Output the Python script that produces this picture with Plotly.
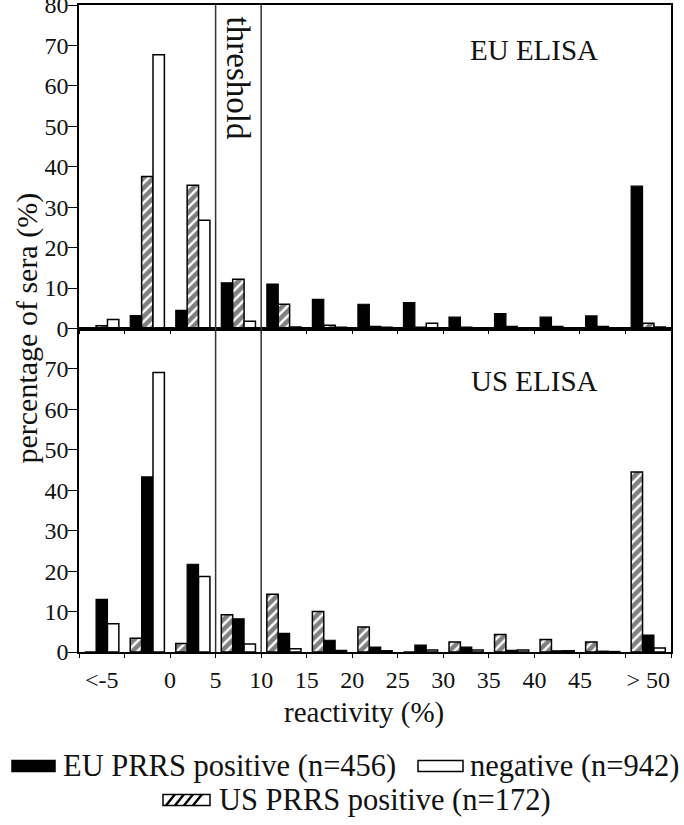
import plotly.graph_objects as go

# ---------------- data ----------------
categories = ["<-5", "-5-0", "0-5", "5-10", "10-15", "15-20", "20-25",
              "25-30", "30-35", "35-40", "40-45", "45-50", ">50"]
tick_labels = ["<-5", "0", "5", "10", "15", "20", "25", "30", "35", "40", "45", "> 50"]
tick_positions = [0.5, 2, 3, 4, 5, 6, 7, 8, 9, 10, 11, 12.5]
threshold_bounds = [3, 4]   # reactivity 5 % and 10 %

# EU ELISA panel (% of sera)
eu_elisa_eu_pos = [0.2, 3.2, 4.5, 11.3, 11.0, 7.2, 6.0, 6.4, 2.8, 3.7, 2.8, 3.1, 35.2]
eu_elisa_us_pos = [0.7, 37.6, 35.4, 12.2, 6.0, 0.8, 0.5, 0.3, 0.3, 0.5, 0.5, 0.5, 1.3]
eu_elisa_neg = [2.2, 67.7, 26.8, 1.8, 0.4, 0.3, 0.3, 1.3, 0.1, 0.2, 0.2, 0.2, 0.4]

# US ELISA panel (% of sera)
us_elisa_us_pos = [0.0, 3.4, 2.1, 9.2, 14.3, 10.0, 6.2, 0.0, 2.5, 4.3, 3.1, 2.5, 44.5]
us_elisa_eu_pos = [13.0, 43.3, 21.7, 8.2, 4.6, 2.9, 1.2, 1.7, 1.2, 0.4, 0.3, 0.2, 4.2]
us_elisa_neg = [7.0, 69.1, 18.7, 2.0, 0.8, 0.4, 0.3, 0.5, 0.5, 0.5, 0.3, 0.1, 1.0]

legend_names = ["EU PRRS positive (n=456)", "negative (n=942)", "US PRRS positive (n=172)"]

# ---------------- figure ----------------
FONT = "Liberation Serif"
W, H = 684, 825
L, R, T, B = 79, 13, 5, 173
centers = [i + 0.5 for i in range(len(categories))]

black_style = dict(marker=dict(color="black", line=dict(color="black", width=1.2)))
white_style = dict(marker=dict(color="white", line=dict(color="black", width=1.5)))
hatch_style = dict(marker=dict(color="white", line=dict(color="black", width=1.5),
                               pattern=dict(shape="/", fgcolor="black", bgcolor="white",
                                            size=7, solidity=0.65)))

fig = go.Figure()
# top: black, hatched, white
fig.add_trace(go.Bar(x=centers, y=eu_elisa_eu_pos, xaxis="x", yaxis="y", offsetgroup="a", **black_style))
fig.add_trace(go.Bar(x=centers, y=eu_elisa_us_pos, xaxis="x", yaxis="y", offsetgroup="b", **hatch_style))
fig.add_trace(go.Bar(x=centers, y=eu_elisa_neg, xaxis="x", yaxis="y", offsetgroup="c", **white_style))
# bottom: hatched, black, white
fig.add_trace(go.Bar(x=centers, y=us_elisa_us_pos, xaxis="x2", yaxis="y2", offsetgroup="a", **hatch_style))
fig.add_trace(go.Bar(x=centers, y=us_elisa_eu_pos, xaxis="x2", yaxis="y2", offsetgroup="b", **black_style))
fig.add_trace(go.Bar(x=centers, y=us_elisa_neg, xaxis="x2", yaxis="y2", offsetgroup="c", **white_style))

axis_common = dict(showline=True, linecolor="black", linewidth=1.5, mirror=True,
                   showgrid=False, zeroline=False, automargin=False,
                   ticklabeloverflow="allow")
xcommon = dict(axis_common, range=[0, len(categories)], tickmode="array",
               tickvals=tick_positions, ticktext=tick_labels, ticks="outside", ticklen=0,
               minor=dict(dtick=1, tick0=0, ticks="outside", ticklen=4, tickcolor="black",
                          tickwidth=1),
               tickfont=dict(family=FONT, size=24, color="#111"))
ycommon = dict(axis_common, range=[0, 80], ticks="outside", ticklen=9, tickwidth=1.2,
               tickcolor="black", tickfont=dict(family=FONT, size=24, color="#111"),
               ticklabelstandoff=-5)

fig.update_layout(
    width=W, height=H,
    margin=dict(l=L, r=R, t=T, b=B, autoexpand=False),
    paper_bgcolor="white", plot_bgcolor="white",
    showlegend=False,
    barmode="group", bargap=0.25, bargroupgap=0,
    xaxis=dict(xcommon, anchor="y", showticklabels=False),
    yaxis=dict(ycommon, domain=[0.5, 1], tickvals=list(range(0, 90, 10))),
    xaxis2=dict(xcommon, anchor="y2", ticklabelstandoff=5),
    yaxis2=dict(ycommon, domain=[0, 0.5], tickvals=list(range(0, 80, 10))),
)

# threshold lines through both panels
for xb in threshold_bounds:
    fig.add_shape(type="line", xref="x", yref="paper", x0=xb, x1=xb, y0=0, y1=1,
                  line=dict(color="#333", width=1.5))

def px(xp):
    return (xp - L) / (W - L - R)

def py(yp):
    return (H - B - yp) / (H - T - B)

ann_font = dict(family=FONT, size=29, color="#111")
leg_font = dict(family=FONT, size=30.5, color="#111")

def label(x, y, text, xref="paper", xanchor="center", angle=0, font=ann_font):
    fig.add_annotation(x=x, xref=xref, y=y, yref="paper", text=text, textangle=angle,
                       xanchor=xanchor, yanchor="middle", showarrow=False, font=font)

label(sum(threshold_bounds) / 2, py(78), "threshold", xref="x", angle=90,
      font=dict(family=FONT, size=33, color="#111"))
label(10, py(50), "EU ELISA", xref="x")
label(10, py(381), "US ELISA", xref="x")
label(px(26), 0.5, "percentage of sera (%)", angle=-90, font=dict(family=FONT, size=30, color="#111"))
label(px(364), py(713), "reactivity (%)")

# custom legend
def swatch(x0, x1, yc, kind):
    h = 11
    y0, y1 = yc - h / 2, yc + h / 2
    fill = "black" if kind == "black" else "white"
    fig.add_shape(type="rect", xref="paper", yref="paper",
                  x0=px(x0), x1=px(x1), y0=py(y1), y1=py(y0),
                  fillcolor=fill, line=dict(color="black", width=1.5))
    if kind == "hatch":
        k = x0 + 3
        while k + h <= x1 - 1:
            fig.add_shape(type="line", xref="paper", yref="paper",
                          x0=px(k), y0=py(y1), x1=px(k + h * 0.8), y1=py(y0),
                          line=dict(color="black", width=2.5))
            k += 9

swatch(12, 55, 766, "black")
swatch(418, 463, 766, "white")
swatch(163, 210, 800, "hatch")
label(px(61), py(766), legend_names[0], xanchor="left", font=leg_font)
label(px(468), py(766), legend_names[1], xanchor="left", font=leg_font)
label(px(217), py(800), legend_names[2], xanchor="left", font=leg_font)

fig.write_html("out.html", config={"displayModeBar": False},
               post_script="document.body.style.margin='0';")
